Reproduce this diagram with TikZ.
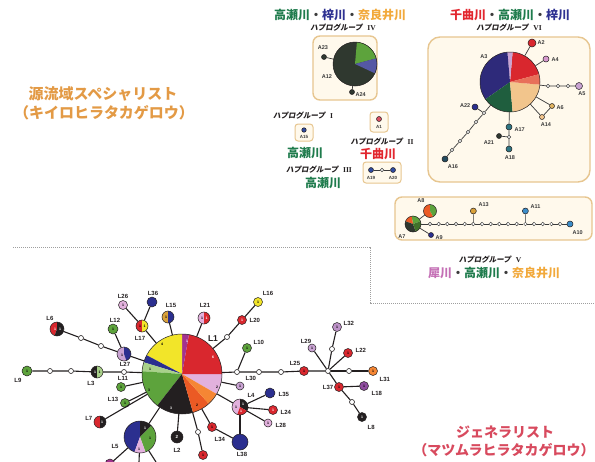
\documentclass[tikz,border=0pt]{standalone}
\usepackage{fontspec}
\setmainfont{Liberation Sans}
\newfontfamily\jp{Noto Sans CJK JP}
\newfontfamily\jpsl[FakeSlant=0.18]{Noto Sans CJK JP}
\newfontfamily\rmn{Liberation Serif}
\usetikzlibrary{calc}
\definecolor{cgreen}{HTML}{1E7B4C}
\definecolor{cblue}{HTML}{2E3192}
\definecolor{corange}{HTML}{F2A93B}
\definecolor{cred}{HTML}{E2262E}
\definecolor{cpurp}{HTML}{C46FB5}
\definecolor{ctl}{HTML}{E39A45}
\definecolor{cgen}{HTML}{D84A5E}
\definecolor{boxfill}{HTML}{FFF9EC}
\definecolor{boxline}{HTML}{E7C690}
\definecolor{nred}{HTML}{D9272E}
\definecolor{nyel}{HTML}{F2E529}
\definecolor{ngreen}{HTML}{5DA33C}
\definecolor{nlgreen}{HTML}{A9D18A}
\definecolor{nblack}{HTML}{231F20}
\definecolor{nblue}{HTML}{2B2F8F}
\definecolor{npink}{HTML}{E2B1DD}
\definecolor{nmag}{HTML}{A3338F}
\definecolor{norange}{HTML}{EB5A24}
\definecolor{norange2}{HTML}{F58634}
\definecolor{npurple}{HTML}{8E4C9E}
\definecolor{nlav}{HTML}{C9A3D3}
\definecolor{ngold}{HTML}{D9A13A}
\definecolor{nsky}{HTML}{3C8DC9}
\definecolor{ndark}{HTML}{2F382F}
\definecolor{agray}{HTML}{3A3A3A}
\definecolor{indigo}{HTML}{2E2A7A}
\definecolor{dgreen}{HTML}{1F5E3E}
\definecolor{tan}{HTML}{F2C58C}
\definecolor{salmon}{HTML}{E8705A}
\newcommand\pslice[5]{\fill[#5] (#1.center) -- ++({-(#3)}:#2) arc[start angle={-(#3)}, end angle={-(#4)}, radius=#2] -- cycle;}
\newcommand\pring[2]{\draw[nblack,line width=0.5pt] (#1.center) circle[radius=#2];}
\tikzset{
 ndot/.style={circle, draw=nblack, line width=0.5pt, fill=#1, inner sep=0pt, minimum size=9pt, font=\fontsize{3.5}{3.5}\selectfont\bfseries, text=black},
 adot/.style={circle, draw=nblack, line width=0.5pt, fill=#1, inner sep=0pt, minimum size=5pt},
 onode/.style={circle, draw=nblack, line width=0.6pt, fill=white, inner sep=0pt, minimum size=5pt},
 aopen/.style={circle, draw=agray, line width=0.45pt, fill=white, inner sep=0pt, minimum size=3.6pt},
 pienode/.style={circle, inner sep=0pt, minimum size=#1},
 llab/.style={font=\fontsize{6}{6}\selectfont\bfseries, text=nblack, inner sep=0.5pt},
 alab/.style={font=\fontsize{5.5}{5.5}\selectfont\bfseries, text=agray, inner sep=0.5pt},
 nnum/.style={font=\fontsize{3.5}{3.5}\selectfont\bfseries, inner sep=0pt},
 ledge/.style={draw=nblack, line width=1.1pt},
 aedge/.style={draw=agray, line width=0.7pt},
 hbox/.style={draw=boxline, fill=boxfill, line width=1.4pt, rounded corners=7pt},
 hg/.style={font=\jpsl\bfseries\fontsize{7.5}{7.5}\selectfont, text=nblack},
 river/.style={font=\jp\bfseries\fontsize{12}{12}\selectfont, text=agray},
}
\begin{document}
\begin{tikzpicture}[x=1pt,y=-1pt]
\useasboundingbox (0,0) rectangle (595,461);
\fill[white] (0,0) rectangle (595,461);

% ---------- side titles
\node[font=\jp\bfseries\fontsize{15}{15}\selectfont, text=ctl] (spec1) at (103,94) {源流域スペシャリスト};
\node[font=\jp\bfseries\fontsize{15}{15}\selectfont, text=ctl] (spec2) at (104,113) {（キイロヒラタカゲロウ）};
\node[font=\jp\bfseries\fontsize{14}{14}\selectfont, text=cgen] (gen1) at (505,432) {ジェネラリスト};
\node[font=\jp\bfseries\fontsize{14}{14}\selectfont, text=cgen] (gen2) at (504,450) {（マツムラヒラタカゲロウ）};

% ---------- separator
\draw[gray!75, line width=0.6pt, dash pattern=on 1.2pt off 0.8pt] (13,247) -- (370,247) -- (370,303) -- (595,303);

% ---------- haplogroup IV
\node[river] (t4) at (340,15) {\textcolor{cgreen}{高瀬川}・\textcolor{cblue}{梓川}・\textcolor{corange}{奈良井川}};
\node[hg] (h4) at (343,28) {ハプログループ\hspace{5pt}{\rmn IV}};
\draw[hbox] (313,36) rectangle (377,100);
\path node[pienode=44pt] (A12) at (355,64) {};
\fill[ndark] (A12.center) circle[radius=22];
\pslice{A12}{22}{15}{85}{ngreen}
\pslice{A12}{22}{-25}{15}{nblue!80!white}
\pring{A12}{22}
\node[adot=ndark] (A23) at (324,57) {};
\node[adot=ndark] (A24) at (352,92) {};
\draw[aedge] (A23) -- (A12);
\draw[aedge] (A24) -- (A12);
\node[alab] at (323,48) {A23};
\node[alab] at (327,77) {A12};
\node[alab, anchor=west] at (355,95) {A24};

% ---------- haplogroup VI
\node[river] (t6) at (510,15) {\textcolor{cred}{千曲川}・\textcolor{cgreen}{高瀬川}・\textcolor{cblue}{梓川}};
\node[hg] (h6) at (509,28) {ハプログループ\hspace{5pt}{\rmn VI}};
\draw[hbox, rounded corners=12pt] (428,37) rectangle (590,182);
\path node[pienode=60pt] (A3) at (510,82) {};
\pslice{A3}{30}{15}{85}{nred}
\pslice{A3}{30}{85}{95}{nlav}
\pslice{A3}{30}{95}{215}{indigo}
\pslice{A3}{30}{215}{275}{dgreen}
\pslice{A3}{30}{275}{355}{tan}
\pslice{A3}{30}{355}{375}{salmon}
\pring{A3}{30}
\node[alab] at (484,57) {A3};
\node[adot=nred, minimum size=8pt] (A2) at (532,43) {};
\node[adot=npink!80!nmag, minimum size=6pt] (A4) at (546,59) {};
\node[aopen] (o5a) at (548,86) {};
\node[aopen] (o5b) at (558,86) {};
\node[aopen] (o5c) at (568,86) {};
\node[adot=nlav, minimum size=7pt] (A5) at (579,86) {};
\node[adot=ngold!80, minimum size=5pt] (A6) at (552,106) {};
\node[adot=tan, minimum size=5pt] (A14) at (542,117) {};
\node[adot=nblue, minimum size=6pt] (A22) at (475,107) {};
\node[aopen] (o16a) at (484,113) {};
\node[aopen] (o16b) at (476,122) {};
\node[aopen] (o16c) at (468,132) {};
\node[aopen] (o16d) at (460,141) {};
\node[aopen] (o16e) at (452,150) {};
\node[adot=dgreen!60!nblue, minimum size=6pt] (A16) at (445,159) {};
\node[adot=dgreen!50!nsky, minimum size=6pt] (A17) at (509,127) {};
\node[aopen] (o17) at (509,137) {};
\node[adot=dgreen!50!nsky, minimum size=6pt] (A18) at (509,149) {};
\node[adot=ndark, minimum size=5pt] (A21) at (499,136) {};
\draw[aedge] (A3) -- (A2);
\draw[aedge] (A3) -- (A4);
\draw[aedge] (A3) -- (o5a) -- (o5b) -- (o5c) -- (A5);
\draw[aedge] (A3) -- (A6);
\draw[aedge] (A3) -- (A14) -- (A6);
\draw[aedge] (A3) -- (o16a) -- (o16b) -- (o16c) -- (o16d) -- (o16e) -- (A16);
\draw[aedge] (A22) -- (o16a);
\draw[aedge] (A3) -- (A17) -- (o17) -- (A18);
\draw[aedge] (A21) -- (o17);
\node[alab, anchor=west] at (537,43) {A2};
\node[alab, anchor=west] at (551,60) {A4};
\node[alab] at (582,94) {A5};
\node[alab, anchor=west] at (556,108) {A6};
\node[alab] at (546,125) {A14};
\node[alab, anchor=east] at (471,106) {A22};
\node[alab] at (453,167) {A16};
\node[alab, anchor=west] at (514,130) {A17};
\node[alab] at (489,143) {A21};
\node[alab] at (510,158) {A18};

% ---------- haplogroup I
\node[hg] (h1) at (303,116) {ハプログループ\hspace{5pt}{\rmn I}};
\draw[hbox, rounded corners=3pt, line width=1pt] (295,124) rectangle (313,141);
\node[adot=nblue!70!nsky, minimum size=4.5pt] (A15) at (304,130) {};
\node[alab, font=\fontsize{4.5}{4.5}\selectfont\bfseries] at (304,137) {A15};
\node[river, text=cgreen] (r1) at (305,153) {高瀬川};

% ---------- haplogroup II
\draw[hbox, rounded corners=3pt, line width=1pt] (370,112) rectangle (388,132);
\node[adot=nred!70!npink, minimum size=5pt] (A1) at (379,119) {};
\node[alab, font=\fontsize{4.5}{4.5}\selectfont\bfseries] at (379,126.5) {A1};
\node[hg] (h2) at (382,142) {ハプログループ\hspace{5pt}{\rmn II}};
\node[river, text=cred] (r2) at (378,154) {千曲川};

% ---------- haplogroup III
\node[hg] (h3) at (319,170) {ハプログループ\hspace{5pt}{\rmn III}};
\node[river, text=cgreen] (r3) at (323,183) {高瀬川};
\draw[hbox, rounded corners=3pt, line width=1pt] (363,162) rectangle (401,183);
\node[adot=nblue!70!nsky, minimum size=5pt] (A19) at (371,170) {};
\node[aopen] (o19) at (382,170) {};
\node[adot=nblue!70!nsky, minimum size=5pt] (A20) at (393,170) {};
\draw[aedge] (A19) -- (o19) -- (A20);
\node[alab, font=\fontsize{4.5}{4.5}\selectfont\bfseries] at (371,177.5) {A19};
\node[alab, font=\fontsize{4.5}{4.5}\selectfont\bfseries] at (393,177.5) {A20};

% ---------- haplogroup V
\draw[hbox] (395,197) rectangle (592,240);
\path node[pienode=16pt] (A7) at (413,224) {};
\pslice{A7}{8}{20}{100}{ngreen}
\pslice{A7}{8}{100}{160}{norange}
\pslice{A7}{8}{160}{290}{ndark}
\pslice{A7}{8}{290}{380}{ngreen!70!black}
\pring{A7}{8}
\path node[pienode=13pt] (A8) at (430,211) {};
\pslice{A8}{6.5}{90}{300}{norange}
\pslice{A8}{6.5}{300}{450}{ngreen}
\pring{A8}{6.5}
\node[adot=nblue, minimum size=5pt] (A9) at (431,235) {};
\foreach \i in {0,...,15} \node[aopen] (v\i) at ({430+8.67*\i},224) {};
\node[adot=ngold, minimum size=6pt] (A13) at (473.35,211) {};
\node[adot=nsky, minimum size=6pt] (A11) at (525.4,211) {};
\node[adot=nsky, minimum size=6pt] (A10) at (570,224) {};
\draw[aedge] (A7) -- (v0);
\foreach \i [count=\j from 1] in {0,...,14} \draw[aedge] (v\i) -- (v\j);
\draw[aedge] (v15) -- (A10);
\draw[aedge] (v5) -- (A13);
\draw[aedge] (v11) -- (A11);
\draw[aedge] (A7) -- (A8);
\draw[aedge] (A7) -- (A9);
\node[alab] at (421,201) {A8};
\node[alab] at (402,237) {A7};
\node[alab, anchor=west] at (435,238) {A9};
\node[alab, anchor=west] at (478,205) {A13};
\node[alab, anchor=west] at (530,207) {A11};
\node[alab, anchor=west] at (572,233) {A10};
\node[hg] (h5) at (490,260) {ハプログループ\hspace{5pt}{\rmn V}};
\node[river] (t5) at (494,273) {\textcolor{cpurp}{犀川}・\textcolor{cgreen}{高瀬川}・\textcolor{corange}{奈良井川}};

% ---------- generalist network
\path node[pienode=80pt] (L1) at (182,374) {};
\pslice{L1}{40}{-30}{0}{npink}
\pslice{L1}{40}{0}{80}{nred}
\pslice{L1}{40}{80}{90}{nmag}
\pslice{L1}{40}{90}{152}{nyel}
\pslice{L1}{40}{152}{163}{nblue}
\pslice{L1}{40}{163}{176}{nlgreen}
\pslice{L1}{40}{176}{232}{ngreen}
\pslice{L1}{40}{232}{286}{nblack}
\pslice{L1}{40}{286}{312}{norange}
\pslice{L1}{40}{312}{330}{norange2}
\pring{L1}{40}
\node[nnum] at (162,344) {4};
\node[nnum, text=white] at (187,341) {1};
\node[nnum, text=white] at (213,357) {6};
\node[nnum] at (217,387) {2};
\node[nnum] at (197,405) {2};
\node[nnum, text=white] at (171,408) {3};
\node[nnum] at (149,390) {3};
\node[nnum] at (150,369) {1};

\path node[pienode=14pt] (L6) at (57,329) {};
\pslice{L6}{7}{90}{250}{nred}
\pslice{L6}{7}{250}{450}{nblack}
\pring{L6}{7}
\node[nnum, text=white] at (55,329) {1};
\node[nnum, text=white] at (60,329) {1};
\path node[pienode=14pt] (n1) at (124,354) {};
\pslice{n1}{7}{90}{290}{nlav}
\pslice{n1}{7}{290}{450}{nblue}
\pring{n1}{7}
\node[nnum] at (122,355) {1};
\path node[pienode=12pt] (L17) at (142,326) {};
\pslice{L17}{6}{90}{270}{nred}
\pslice{L17}{6}{270}{450}{nyel}
\pring{L17}{6}
\node[nnum] at (140,326) {1};
\node[nnum] at (144.5,326) {1};
\path node[pienode=12pt] (L15) at (168,317) {};
\pslice{L15}{6}{90}{270}{ngold}
\pslice{L15}{6}{270}{450}{nblue}
\pring{L15}{6}
\node[nnum] at (166,317) {1};
\path node[pienode=12pt] (L21) at (204,318) {};
\pslice{L21}{6}{90}{270}{npink}
\pslice{L21}{6}{270}{450}{nred}
\pring{L21}{6}
\node[nnum] at (202,318) {1};
\node[nnum, text=white] at (206.5,318) {1};
\path node[pienode=12pt] (L3) at (97,372) {};
\pslice{L3}{6}{90}{270}{nblack}
\pslice{L3}{6}{270}{450}{nlgreen}
\pring{L3}{6}
\node[nnum, text=white] at (95,372) {1};
\node[nnum] at (99.5,372) {1};
\path node[pienode=12pt] (L7) at (100,422) {};
\pslice{L7}{6}{90}{270}{nred}
\pslice{L7}{6}{270}{450}{nblack}
\pring{L7}{6}
\node[nnum, text=white] at (102,422) {1};
\path node[pienode=16pt] (L4) at (240,407) {};
\pslice{L4}{8}{90}{250}{npink}
\pslice{L4}{8}{330}{450}{nblack}
\pslice{L4}{8}{250}{330}{nred}
\pring{L4}{8}
\node[nnum] at (236,407) {1};
\node[nnum, text=white] at (243,404) {1};
\node[nnum, text=white] at (241,411) {1};
\path node[pienode=32pt] (L5) at (140,437) {};
\pslice{L5}{16}{90}{250}{nblue}
\pslice{L5}{16}{45}{90}{nblack}
\pslice{L5}{16}{-70}{45}{ngreen}
\pslice{L5}{16}{250}{290}{npink}
\pring{L5}{16}
\node[nnum, text=white] at (145,428) {1};
\node[nnum] at (150,438) {1};
\node[nnum] at (139,449) {1};

\node[ndot=ngreen, minimum size=10pt] (L9) at (27,371) {1};
\node[ndot=ngreen, minimum size=10pt] (L12) at (113,329) {1};
\node[ndot=npink] (L26) at (123,305) {1};
\node[ndot=nblue, minimum size=10pt] (L36) at (152,302) {};
\node[ndot=ngreen] (L11) at (121,387) {1};
\node[ndot=ngreen] (L13) at (125,403) {1};
\node[ndot=nblack, minimum size=12pt, text=white, font=\fontsize{4.5}{4.5}\selectfont\bfseries] (L2) at (177,437) {2};
\node[ndot=nred] (L34) at (212,427) {1};
\node[ndot=nred] (Lr) at (203,455) {1};
\node[ndot=nblue, minimum size=16pt] (L38) at (240,442) {};
\node[ndot=nlav, minimum size=8pt] (L30) at (240,386) {1};
\node[ndot=nblue, minimum size=10pt] (L35) at (270,393) {};
\node[ndot=nred, text=white] (L24) at (273,410) {1};
\node[ndot=npink, minimum size=8pt] (L28) at (268,423) {1};
\node[ndot=ngreen] (L10) at (247,348) {1};
\node[ndot=nred, text=white] (L20) at (242,320) {1};
\node[ndot=nyel] (L16) at (258,302) {1};
\node[ndot=nred] (L25) at (304,371) {1};
\node[ndot=nlav, minimum size=8pt] (L29) at (312,348) {1};
\node[ndot=nlav!80!npurple] (L32) at (337,327) {1};
\node[ndot=nred] (L22) at (348,353) {1};
\node[ndot=norange2] (L31) at (373,371) {1};
\node[ndot=nred] (L37) at (339,387) {1};
\node[ndot=npurple] (L18) at (364,386) {1};
\node[ndot=nblack, text=white] (L8) at (362,417) {1};
\node[ndot=nmag, minimum size=10pt] (Lm) at (110,464) {};
\coordinate (c1) at (139,462);
\coordinate (c2) at (156,462);

\node[onode] (o61) at (81,338) {};
\node[onode] (o62) at (101,346) {};
\node[onode] (o27) at (124,372) {};
\node[onode] (o91) at (71,371) {};
\node[onode] (o92) at (50,371) {};
\node[onode] (o201) at (227,337) {};
\node[onode] (ob1) at (237,372) {};
\node[onode] (ob2) at (259,372) {};
\node[onode] (ob3) at (281,372) {};
\node[onode] (hub) at (328,371) {};
\node[onode] (o32) at (332,349) {};
\node[onode] (o31) at (349,371) {};
\node[onode] (o8) at (352,402) {};
\node[onode] (o2b) at (198,432) {};

\draw[ledge] (L6) -- (o61) -- (o62) -- (n1) -- (L1);
\draw[ledge] (n1) -- (L12);
\draw[ledge] (L26) -- (L17);
\draw[ledge] (L36) -- (L17);
\draw[ledge] (L17) -- (L1);
\draw[ledge] (L15) -- (L1);
\draw[ledge] (L21) -- (L1);
\draw[ledge] (L9) -- (o92) -- (o91) -- (L3) -- (o27) -- (L1);
\draw[ledge] (L11) -- (L1);
\draw[ledge] (L13) -- (L1);
\draw[ledge] (L7) -- (L1);
\draw[ledge] (L5) -- (L1);
\draw[ledge] (L2) -- (L1);
\draw[ledge] (L1) -- (o2b) -- (Lr);
\draw[ledge] (L1) -- (L34) -- (L38);
\draw[ledge] (L1) -- (L4);
\draw[ledge] (L4) -- (L35);
\draw[ledge] (L4) -- (L24);
\draw[ledge] (L4) -- (L28);
\draw[ledge] (L4) -- (L38);
\draw[ledge] (L1) -- (L30);
\draw[ledge] (L1) -- (o201) -- (L20) -- (L16);
\draw[ledge] (L1) -- (ob1) -- (ob2) -- (ob3) -- (L25) -- (hub);
\draw[ledge] (ob1) -- (L10);
\draw[ledge] (hub) -- (L29);
\draw[ledge] (hub) -- (o32) -- (L32);
\draw[ledge] (hub) -- (L22);
\draw[ledge] (hub) -- (o31) -- (L31);
\draw[ledge] (hub) -- (L37) -- (L18);
\draw[ledge] (L37) -- (o8) -- (L8);
\draw[ledge] (L5) -- (Lm);
\draw[ledge] (L5) -- (c1);
\draw[ledge] (L5) -- (c2);

\node[llab, font=\fontsize{8.5}{8.5}\selectfont\bfseries] at (213,339) {L1};
\node[llab] at (50,318) {L6};
\node[llab] at (115,320) {L12};
\node[llab] at (123,296) {L26};
\node[llab] at (153,293) {L36};
\node[llab] at (140,338) {L17};
\node[llab] at (171,305) {L15};
\node[llab] at (205,305) {L21};
\node[llab, anchor=west] at (249,320) {L20};
\node[llab] at (268,293) {L16};
\node[llab, anchor=west] at (253,342) {L10};
\node[llab] at (125,364) {L27};
\node[llab] at (91,383) {L3};
\node[llab] at (18,380) {L9};
\node[llab] at (123,378) {L11};
\node[llab, anchor=east] at (119,399) {L13};
\node[llab, anchor=east] at (93,418) {L7};
\node[llab] at (115,446) {L5};
\node[llab] at (177,450) {L2};
\node[llab, anchor=west] at (214,439) {L34};
\node[llab] at (242,454) {L38};
\node[llab, anchor=west] at (245,378) {L30};
\node[llab] at (251,395) {L4};
\node[llab, anchor=west] at (278,394) {L35};
\node[llab, anchor=west] at (280,412) {L24};
\node[llab, anchor=west] at (275,425) {L28};
\node[llab] at (295,363) {L25};
\node[llab] at (306,341) {L29};
\node[llab, anchor=west] at (343,323) {L32};
\node[llab, anchor=west] at (355,350) {L22};
\node[llab, anchor=west] at (379,379) {L31};
\node[llab, anchor=east] at (334,387) {L37};
\node[llab, anchor=west] at (371,393) {L18};
\node[llab, anchor=west] at (367,427) {L8};
\end{tikzpicture}
\end{document}
